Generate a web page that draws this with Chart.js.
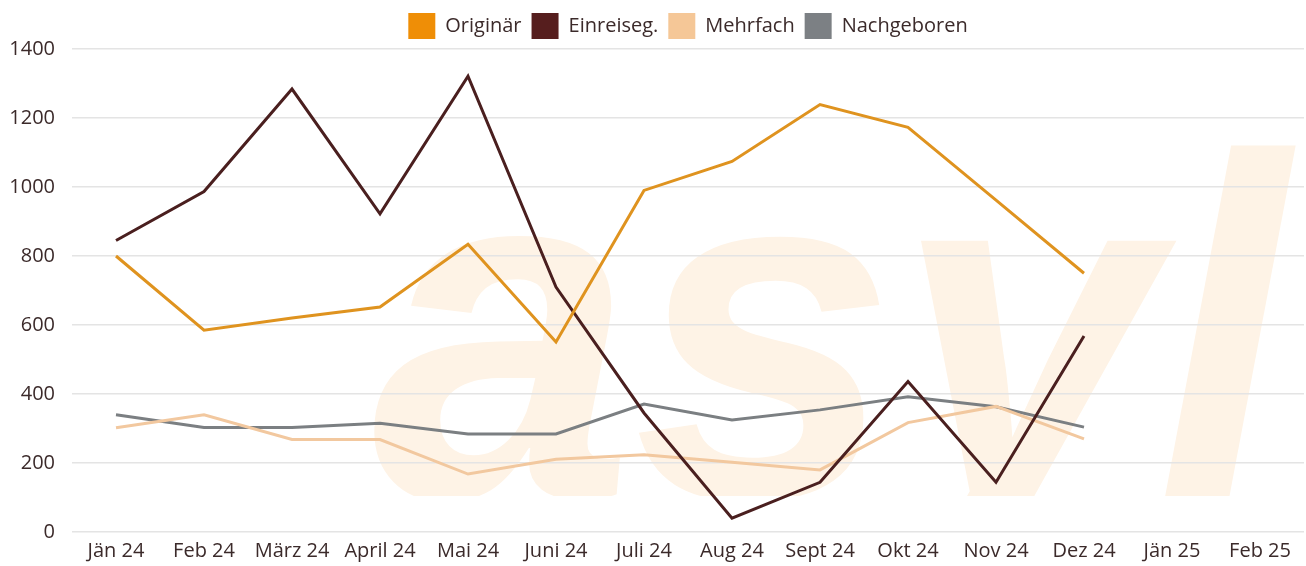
<!DOCTYPE html>
<html>
<head>
<meta charset="utf-8">
<script src="https://cdn.jsdelivr.net/npm/chart.js@4"></script>
<style>
  html, body { margin: 0; padding: 0; background: #fff; }
  #wrap { width: 1306px; height: 566px; position: relative; }
</style>
</head>
<body>
<div id="wrap"><canvas id="c"></canvas></div>
<script>
// months shown on the x axis (Jän 25 / Feb 25 still empty)
const months = ['Jän 24', 'Feb 24', 'März 24', 'April 24', 'Mai 24', 'Juni 24', 'Juli 24',
                'Aug 24', 'Sept 24', 'Okt 24', 'Nov 24', 'Dez 24', 'Jän 25', 'Feb 25'];

const originaer   = [800, 585, 620, 652, 834, 551, 990, 1074, 1239, 1173, 962, 750, null, null];
const einreiseg   = [845, 987, 1284, 922, 1321, 710, 345, 40, 144, 436, 144, 568, null, null];
const mehrfach    = [302, 340, 268, 268, 168, 211, 224, 202, 180, 317, 364, 270, null, null];
const nachgeboren = [340, 303, 303, 315, 284, 284, 371, 325, 354, 392, 363, 304, null, null];

const yTicks = [0, 200, 400, 600, 800, 1000, 1200, 1400];

const textColor = '#3b2a2a';
const font = "'Open Sans', 'Noto Sans', sans-serif";

// pale "asyl" watermark behind the grid
const watermark = {
  id: 'watermark',
  beforeDraw(chart) {
    const { ctx, chartArea } = chart;
    ctx.save();
    ctx.beginPath();
    ctx.rect(chartArea.left, 0, chartArea.right - chartArea.left, chartArea.bottom - 36);
    ctx.clip();
    ctx.fillStyle = '#fef3e6';
    ctx.font = "bold italic 485px 'Liberation Sans', Arial, sans-serif";
    ctx.textBaseline = 'alphabetic';
    ctx.translate(372, 497);
    ctx.scale(0.97, 1);
    ctx.fillText('asyl', 0, 0);
    ctx.restore();
  }
};

// legend sits centred over the plot area, not the whole canvas
const legendShift = {
  id: 'legendShift',
  afterLayout(chart) {
    const l = chart.legend, a = chart.chartArea;
    const dx = (a.left + a.right) / 2 - (l.left + l.right) / 2;
    l.left += dx;
    l.right += dx;
  }
};

function series(label, data, line, box) {
  return {
    label, data,
    borderColor: line,
    backgroundColor: box,
    borderWidth: 3,
    pointRadius: 0,
    pointHoverRadius: 0,
    tension: 0,
    spanGaps: false,
  };
}

new Chart(document.getElementById('c'), {
  type: 'line',
  data: {
    labels: months,
    datasets: [
      series('Originär',    originaer,   '#df931f', '#ef8e06'),
      series('Einreiseg.',  einreiseg,   '#4a1f1f', '#561e1e'),
      series('Mehrfach',    mehrfach,    '#f2c89f', '#f5c797'),
      series('Nachgeboren', nachgeboren, '#7b7f82', '#7c8084'),
    ],
  },
  options: {
    responsive: true,
    maintainAspectRatio: false,
    animation: false,
    layout: { padding: { top: 3, right: 2, left: 0, bottom: 0 } },
    plugins: {
      legend: {
        position: 'top',
        labels: {
          color: textColor,
          font: { family: font, size: 20 },
          boxWidth: 27,
          boxHeight: 26,
          padding: 10,
          generateLabels(chart) {
            return Chart.defaults.plugins.legend.labels.generateLabels(chart).map(it => {
              it.lineWidth = 0;
              it.strokeStyle = 'rgba(0,0,0,0)';
              return it;
            });
          },
        },
      },
      tooltip: { enabled: false },
    },
    scales: {
      x: {
        offset: true,
        afterFit(scale) { scale.height = 34; },
        grid: { display: false, drawTicks: false },
        border: { display: false },
        ticks: { color: textColor, font: { family: font, size: 20 }, padding: 7, maxRotation: 0, autoSkip: false },
      },
      y: {
        min: 0, max: 1400,
        afterFit(scale) { scale.width = 72; },
        afterBuildTicks(scale) { scale.ticks = yTicks.map(v => ({ value: v })); },
        grid: { color: '#e4e4e4', lineWidth: 1.5, drawTicks: false },
        border: { display: false },
        ticks: { color: textColor, font: { family: font, size: 20 }, padding: 17, callback: v => String(v) },
      },
    },
  },
  plugins: [watermark, legendShift],
});
</script>
</body>
</html>
